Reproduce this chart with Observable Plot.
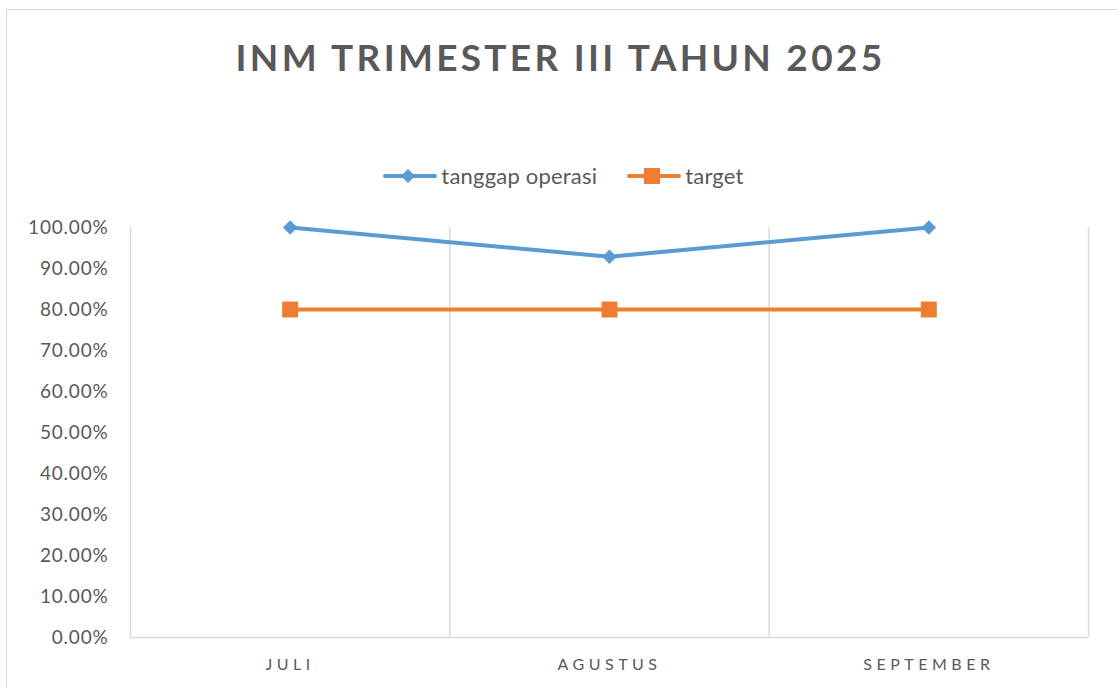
<!DOCTYPE html>
<html>
<head>
<meta charset="utf-8">
<script src="https://cdn.jsdelivr.net/npm/d3@7"></script>
<script src="https://cdn.jsdelivr.net/npm/@observablehq/plot@0.6"></script>
<style>
  html, body { margin: 0; padding: 0; background: #fff; overflow: hidden; }
  body { width: 1117px; height: 688px; position: relative; font-family: Lato, "Open Sans", sans-serif; color: #595959; }
  #frame { position: absolute; left: 6px; top: 9px; width: 1300px; height: 900px; border: 1.5px solid #d9d9d9; box-sizing: border-box; }
  #title { position: absolute; left: 0; width: 1117px; top: 33px; text-align: center; font-weight: 700; font-size: 37px; letter-spacing: 3.3px; color: #595959; line-height: 48px; padding-left: 4px; box-sizing: border-box; }
  #legend { position: absolute; left: 0; width: 1117px; top: 162px; display: flex; justify-content: center; align-items: center; font-size: 22px; letter-spacing: 0.2px; color: #595959; padding-left: 10px; box-sizing: border-box; }
  .item { display: flex; align-items: center; margin: 0 15px; }
  .item svg { margin-right: 4px; }
  #chart { position: absolute; left: 0; top: 200px; }
</style>
</head>
<body>
<div id="frame"></div>
<div id="title">INM TRIMESTER III TAHUN 2025</div>
<div id="legend"></div>
<div id="chart"></div>
<script>
const months = ["JULI", "AGUSTUS", "SEPTEMBER"];
const tanggapOperasi = [1.00, 0.9286, 1.00];
const target = [0.80, 0.80, 0.80];
const yTicks = [0, 0.1, 0.2, 0.3, 0.4, 0.5, 0.6, 0.7, 0.8, 0.9, 1.0];
const seriesNames = ["tanggap operasi", "target"];
const colors = ["#5B9BD5", "#ED7D31"];

const blue = months.map((m, i) => ({i, v: tanggapOperasi[i]}));
const orange = months.map((m, i) => ({i, v: target[i]}));
const boundaries = d3.range(months.length + 1).map(k => k - 0.5);

// Legend
const legend = document.getElementById("legend");
seriesNames.forEach((name, k) => {
  const it = document.createElement("div");
  it.className = "item";
  const marker = k === 0
    ? `<path d="M25,5 L32,12 L25,19 L18,12 Z" fill="${colors[0]}"/>`
    : `<rect x="17" y="4" width="16" height="16" fill="${colors[1]}"/>`;
  it.innerHTML = `<svg width="54" height="24"><line x1="2" x2="52" y1="12" y2="12" stroke="${colors[k]}" stroke-width="4" stroke-linecap="round"/>${marker}</svg><span>${name}</span>`;
  legend.appendChild(it);
});

const chart = Plot.plot({
  width: 1117,
  height: 488,
  marginLeft: 130,
  marginRight: 29,
  marginTop: 27,
  marginBottom: 51,
  style: {fontFamily: "Lato, 'Open Sans', sans-serif", color: "#595959", background: "transparent", overflow: "visible"},
  x: {type: "linear", domain: [-0.5, months.length - 0.5], axis: null},
  y: {domain: [0, 1], axis: null},
  marks: [
    Plot.ruleX(boundaries, {x: d => d, y1: 0, y2: 1, stroke: "#d9d9d9", strokeWidth: 1.5}),
    Plot.ruleY([0], {stroke: "#d9d9d9", strokeWidth: 1.5}),
    Plot.axisY({ticks: yTicks, tickFormat: d => (d * 100).toFixed(2) + "%", tickSize: 0, tickPadding: 22, fontSize: 19, fill: "#595959", label: null}),
    Plot.axisX({ticks: d3.range(months.length), tickFormat: i => months[i], tickSize: 0, tickPadding: 21, fontSize: 16, fill: "#595959", label: null}),
    Plot.line(orange, {x: "i", y: "v", stroke: colors[1], strokeWidth: 4}),
    Plot.dot(orange, {x: "i", y: "v", symbol: "square", r: 9, fill: colors[1], stroke: "none"}),
    Plot.line(blue, {x: "i", y: "v", stroke: colors[0], strokeWidth: 4}),
    Plot.dot(blue, {x: "i", y: "v", symbol: "diamond2", r: 6.5, fill: colors[0], stroke: "none"})
  ]
});
document.getElementById("chart").appendChild(chart);
d3.select(chart).selectAll('[aria-label="x-axis tick label"] text').style("letter-spacing", "4.5px");
d3.select(chart).selectAll('[aria-label="y-axis tick label"] text').style("letter-spacing", "0.8px");
</script>
</body>
</html>
